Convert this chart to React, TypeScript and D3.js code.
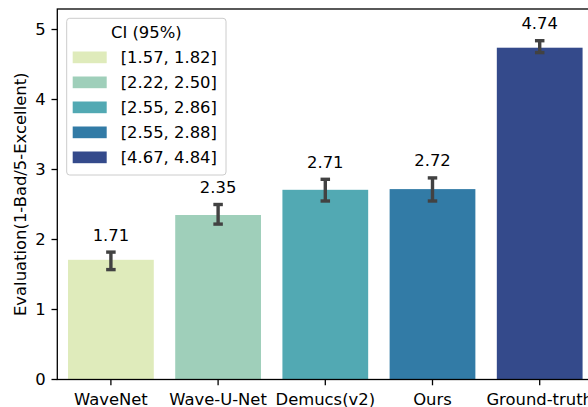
import React from "react";
import * as d3 from "d3";

const categories = ["WaveNet", "Wave-U-Net", "Demucs(v2)", "Ours", "Ground-truth"];
const means = [1.71, 2.35, 2.71, 2.72, 4.74];
const ciLow = [1.57, 2.22, 2.55, 2.55, 4.67];
const ciHigh = [1.82, 2.5, 2.86, 2.88, 4.84];
const colors = ["#dfebbb", "#9fcfba", "#52a9b3", "#327ba6", "#344a8b"];
const yTicks = [0, 1, 2, 3, 4, 5];
const legendTitle = "CI (95%)";
const yLabel = "Evaluation(1-Bad/5-Excellent)";

const W = 588;
const H = 407;
const FONT = "DejaVu Sans, sans-serif";
const FS = 16.4;

export default function App() {
  const left = 57.3;
  const right = 593.3;
  const top = 9;
  const bottom = 379.5;

  const x = d3
    .scaleBand<string>()
    .domain(categories)
    .range([left, right])
    .paddingInner(0.2)
    .paddingOuter(0.1);
  const y = d3.scaleLinear().domain([0, 5.293]).range([bottom, top]);
  const fmt = d3.format(".2f");

  const capW = 9.5;
  const tickLen = 5.8;

  return (
    <svg
      width={W}
      height={H}
      style={{ position: "absolute", left: 0, top: 0, fontFamily: FONT }}
    >
      <rect x={0} y={0} width={W} height={H} fill="#fff" />
      {/* bars */}
      {categories.map((c, i) => (
        <rect
          key={c}
          x={x(c)!}
          y={y(means[i])}
          width={x.bandwidth()}
          height={y(0) - y(means[i])}
          fill={colors[i]}
        />
      ))}
      {/* error bars */}
      {categories.map((c, i) => {
        const cx = x(c)! + x.bandwidth() / 2;
        return (
          <g key={"e" + c} stroke="#424242" strokeWidth={3.4}>
            <line x1={cx} x2={cx} y1={y(ciLow[i])} y2={y(ciHigh[i])} />
            <line x1={cx - capW / 2} x2={cx + capW / 2} y1={y(ciLow[i])} y2={y(ciLow[i])} />
            <line x1={cx - capW / 2} x2={cx + capW / 2} y1={y(ciHigh[i])} y2={y(ciHigh[i])} />
          </g>
        );
      })}
      {/* value labels */}
      {categories.map((c, i) => (
        <text
          key={"v" + c}
          x={x(c)! + x.bandwidth() / 2}
          y={y(ciHigh[i]) - 11.5}
          textAnchor="middle"
          fontSize={FS}
          fill="#000"
        >
          {fmt(means[i])}
        </text>
      ))}
      {/* frame */}
      <rect
        x={left}
        y={top}
        width={right - left}
        height={bottom - top}
        fill="none"
        stroke="#000"
        strokeWidth={1.3}
      />
      {/* y axis */}
      {yTicks.map((t) => (
        <g key={"y" + t}>
          <line x1={left - tickLen} x2={left} y1={y(t)} y2={y(t)} stroke="#000" strokeWidth={1.3} />
          <text
            x={left - tickLen - 5.8}
            y={y(t)}
            textAnchor="end"
            dominantBaseline="central"
            fontSize={FS}
            fill="#000"
          >
            {t}
          </text>
        </g>
      ))}
      {/* x axis */}
      {categories.map((c) => {
        const cx = x(c)! + x.bandwidth() / 2;
        return (
          <g key={"x" + c}>
            <line x1={cx} x2={cx} y1={bottom} y2={bottom + tickLen} stroke="#000" strokeWidth={1.3} />
            <text x={cx} y={404.5} textAnchor="middle" fontSize={FS} fill="#000">
              {c}
            </text>
          </g>
        );
      })}
      {/* y label */}
      <text
        transform={`translate(26,${(top + bottom) / 2}) rotate(-90)`}
        textAnchor="middle"
        fontSize={FS}
        fill="#000"
      >
        {yLabel}
      </text>
      {/* legend */}
      <g>
        <rect
          x={66.7}
          y={18.3}
          width={159.3}
          height={156.7}
          rx={3}
          fill="#fff"
          fillOpacity={0.8}
          stroke="#cccccc"
          strokeWidth={1}
        />
        <text x={146.3} y={32} textAnchor="middle" dominantBaseline="central" fontSize={FS} fill="#000">
          {legendTitle}
        </text>
        {categories.map((c, i) => {
          const cy = 57.3 + 25 * i;
          return (
            <g key={"l" + c}>
              <rect x={72.7} y={cy - 5.8} width={34} height={11.7} fill={colors[i]} />
              <text x={120.7} y={cy} dominantBaseline="central" fontSize={FS} fill="#000">
                {`[${fmt(ciLow[i])}, ${fmt(ciHigh[i])}]`}
              </text>
            </g>
          );
        })}
      </g>
    </svg>
  );
}
